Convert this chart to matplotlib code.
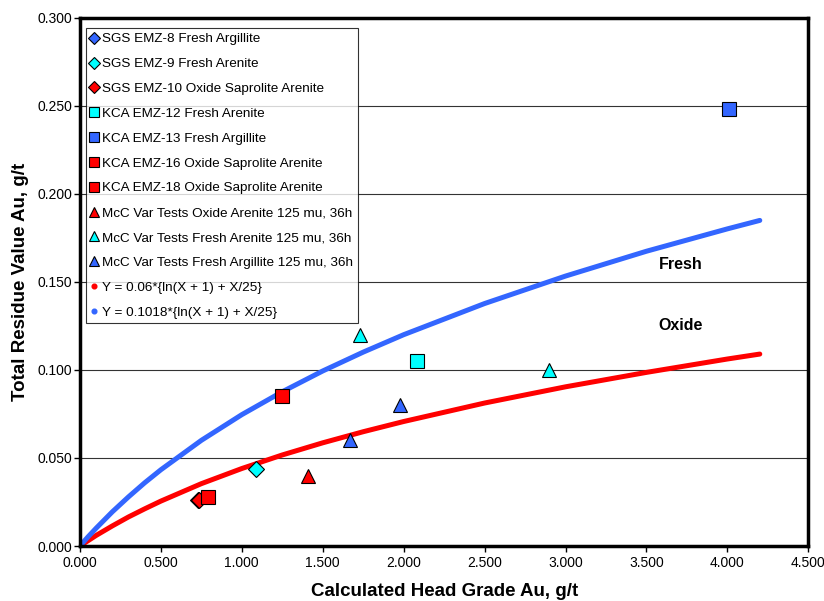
"""Residue value vs calculated head grade with Fresh / Oxide model curves."""
import matplotlib
matplotlib.use('Agg')
import matplotlib.pyplot as plt

plt.rcParams['font.family'] = ['Liberation Sans', 'DejaVu Sans']

BLUE = '#3366FF'
CYAN = '#00FFFF'
RED = '#FF0000'

# sample points (head grade, residue)
sgs8_x, sgs8_y = [0.73], [0.026]
sgs9_x, sgs9_y = [1.09], [0.044]
sgs10_x, sgs10_y = [0.735], [0.026]
kca12_x, kca12_y = [2.08], [0.105]
kca13_x, kca13_y = [4.01], [0.248]
kca16_x, kca16_y = [1.25], [0.085]
kca18_x, kca18_y = [0.79], [0.028]
mcc_ox_x, mcc_ox_y = [1.41], [0.040]
mcc_fa_x, mcc_fa_y = [1.73, 2.90], [0.120, 0.100]
mcc_fg_x, mcc_fg_y = [1.98, 1.67], [0.080, 0.060]

# model curves
curve_x = [0, 0.05, 0.1, 0.2, 0.3, 0.4, 0.5, 0.75, 1.0, 1.25, 1.5, 1.75,
           2.0, 2.5, 3.0, 3.5, 4.0, 4.2]
oxide_y = [0, 0.0030, 0.0060, 0.0114, 0.0165, 0.0211, 0.0255, 0.0354, 0.0440,
           0.0517, 0.0586, 0.0649, 0.0707, 0.0812, 0.0904, 0.0986, 0.1062, 0.1090]
fresh_y = [0, 0.0052, 0.0101, 0.0194, 0.0279, 0.0359, 0.0433, 0.0600, 0.0746,
           0.0876, 0.0994, 0.1101, 0.1200, 0.1377, 0.1533, 0.1674, 0.1801, 0.1849]

fig = plt.figure(figsize=(8.24, 6.01), dpi=100)
ax = fig.add_axes([0.097, 0.0915, 0.884, 0.879])

for y in [0.05, 0.10, 0.15, 0.20, 0.25]:
    ax.axhline(y, color='#333333', linewidth=0.8, zorder=0)

ax.plot(curve_x, oxide_y, color=RED, linewidth=3.6, zorder=2, solid_capstyle='round')
ax.plot(curve_x, fresh_y, color=BLUE, linewidth=3.6, zorder=2, solid_capstyle='round')

mk = dict(linestyle='none', markeredgecolor='black', markeredgewidth=0.8, zorder=3)
h = []
h += ax.plot(sgs8_x, sgs8_y, 'D', color=BLUE, markersize=8, label='SGS EMZ-8 Fresh Argillite', **mk)
h += ax.plot(sgs9_x, sgs9_y, 'D', color=CYAN, markersize=8, label='SGS EMZ-9 Fresh Arenite', **mk)
h += ax.plot(sgs10_x, sgs10_y, 'D', color=RED, markersize=8, label='SGS EMZ-10 Oxide Saprolite Arenite', **mk)
h += ax.plot(kca12_x, kca12_y, 's', color=CYAN, markersize=10, label='KCA EMZ-12 Fresh Arenite', **mk)
h += ax.plot(kca13_x, kca13_y, 's', color=BLUE, markersize=10, label='KCA EMZ-13 Fresh Argillite', **mk)
h += ax.plot(kca16_x, kca16_y, 's', color=RED, markersize=10, label='KCA EMZ-16 Oxide Saprolite Arenite', **mk)
h += ax.plot(kca18_x, kca18_y, 's', color=RED, markersize=10, label='KCA EMZ-18 Oxide Saprolite Arenite', **mk)
h += ax.plot(mcc_ox_x, mcc_ox_y, '^', color=RED, markersize=10, label='McC Var Tests Oxide Arenite 125 mu, 36h', **mk)
h += ax.plot(mcc_fa_x, mcc_fa_y, '^', color=CYAN, markersize=10, label='McC Var Tests Fresh Arenite 125 mu, 36h', **mk)
h += ax.plot(mcc_fg_x, mcc_fg_y, '^', color=BLUE, markersize=10, label='McC Var Tests Fresh Argillite 125 mu, 36h', **mk)
h += ax.plot([], [], 'o', color=RED, markersize=4.5, label='Y = 0.06*{ln(X + 1) + X/25}')
h += ax.plot([], [], 'o', color=BLUE, markersize=4.5, label='Y = 0.1018*{ln(X + 1) + X/25}')

leg = ax.legend(handles=h, loc='upper left', bbox_to_anchor=(0.004, 0.985),
                fontsize=9.7, frameon=True, fancybox=False, edgecolor='black',
                markerscale=0.75, handlelength=0.6, handletextpad=0.3,
                labelspacing=0.92, borderpad=0.35, borderaxespad=0.2)
leg.get_frame().set_linewidth(0.8)

ax.text(3.71, 0.160, 'Fresh', fontsize=11.5, fontweight='bold', ha='center', va='center')
ax.text(3.71, 0.125, 'Oxide', fontsize=11.5, fontweight='bold', ha='center', va='center')

ax.set_xlim(0, 4.5)
ax.set_ylim(0, 0.3)
ax.set_xticks([i * 0.5 for i in range(10)])
ax.set_yticks([i * 0.05 for i in range(7)])
ax.set_xticklabels([f'{i * 0.5:.3f}' for i in range(10)])
ax.set_yticklabels([f'{i * 0.05:.3f}' for i in range(7)])
ax.tick_params(labelsize=10, direction='out', length=4, width=1)
ax.tick_params(axis='y', pad=1.5)
ax.tick_params(axis='x', pad=3.5)
for s in ax.spines.values():
    s.set_linewidth(2.5)

ax.set_xlabel('Calculated Head Grade Au, g/t', fontsize=13.5, fontweight='bold', labelpad=9)
ax.set_ylabel('Total Residue Value Au, g/t', fontsize=13.5, fontweight='bold', labelpad=6)

fig.savefig('out.png', dpi=100)
